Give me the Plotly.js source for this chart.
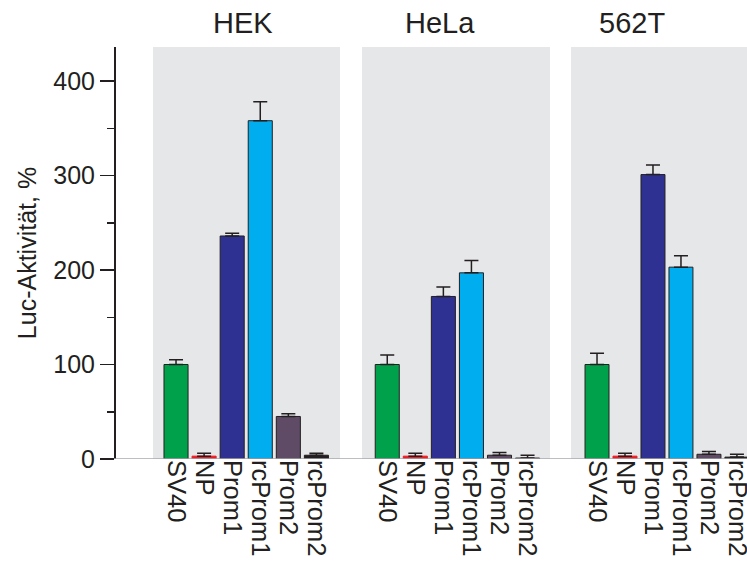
<!DOCTYPE html>
<html>
<head>
<meta charset="utf-8">
<script src="https://cdn.plot.ly/plotly-3.0.1.min.js"></script>
<style>html,body{margin:0;padding:0;background:#fff;}#chart{width:747px;height:562px;}</style>
</head>
<body>
<div id="chart"></div>
<script>
var constructs = ['SV40', 'NP', 'Prom1', 'rcProm1', 'Prom2', 'rcProm2'];
var cellLines = ['HEK', 'HeLa', '562T'];
var hekValues  = [100, 3, 236, 358, 45, 4];
var hekErrors  = [5, 3, 3, 20, 3, 2];
var helaValues = [100, 3, 172, 197, 4, 1];
var helaErrors = [10, 3, 10, 13, 3, 3];
var t562Values = [100, 3, 301, 203, 5, 2];
var t562Errors = [12, 3, 10, 12, 3, 3];
var barColors  = ['#00a14b', '#ed1c24', '#2e3192', '#00aeef', '#5f4b66', '#231f20'];
var lineColors = ['#231f20', '#ed1c24', '#231f20', '#231f20', '#231f20', '#231f20'];

var FONT = 'Liberation Sans, Arial, Helvetica, sans-serif';
var INK = '#231f20';

function makeTrace(vals, errs, xa) {
  return {
    type: 'bar', x: constructs, y: vals, xaxis: xa, yaxis: 'y',
    marker: {color: barColors, line: {color: lineColors, width: 1}},
    error_y: {type: 'data', symmetric: false, array: errs,
              arrayminus: errs.map(function(){return 0;}),
              color: INK, thickness: 1.5, width: 7},
    showlegend: false, hoverinfo: 'none'
  };
}

var data = [
  makeTrace(hekValues, hekErrors, 'x'),
  makeTrace(helaValues, helaErrors, 'x2'),
  makeTrace(t562Values, t562Errors, 'x3')
];

function xax(domain, range) {
  return {
    domain: domain, range: range, type: 'category', anchor: 'y',
    showgrid: false, zeroline: false, showline: false, ticks: '',
    tickmode: 'array', tickvals: constructs, ticktext: constructs,
    tickangle: 90, tickfont: {family: FONT, size: 25.5, color: INK},
    fixedrange: true
  };
}

var W = 633;
var layout = {
  width: 747, height: 562,
  margin: {l: 114, r: 0, t: 47, b: 103, pad: 0},
  paper_bgcolor: '#ffffff',
  plot_bgcolor: '#e6e7e8',
  bargap: 0.143,
  xaxis:  xax([39 / W, 226 / W], [-0.82, 5.84]),
  xaxis2: xax([248 / W, 436 / W], [-0.9, 5.8]),
  xaxis3: xax([457 / W, 1], [-0.93, 5.36]),
  yaxis: {
    range: [0, 436], anchor: 'free', position: 0,
    showline: true, linecolor: INK, linewidth: 1.5,
    showgrid: false, zeroline: false,
    ticks: 'outside', ticklen: 14, tickwidth: 1.5, tickcolor: INK,
    tickvals: [0, 100, 200, 300, 400],
    tickfont: {family: FONT, size: 25, color: INK},
    minor: {tickvals: [50, 150, 250, 350], ticks: 'outside', ticklen: 7, tickwidth: 1.5, tickcolor: INK, showgrid: false},
    title: {text: 'Luc-Aktivität, %', font: {family: FONT, size: 25, color: INK}, standoff: 8},
    fixedrange: true
  },
  shapes: [
    {type: 'line', xref: 'paper', yref: 'y', x0: 0, x1: 1, y0: 0, y1: 0,
     line: {color: '#a7a9ac', width: 1.5}, layer: 'above'}
  ],
  annotations: [
    {text: cellLines[0], xref: 'paper', yref: 'paper', x: (243 - 114) / W, y: 1, yanchor: 'bottom', xanchor: 'center', yshift: 6, showarrow: false, font: {family: FONT, size: 29, color: INK}},
    {text: cellLines[1], xref: 'paper', yref: 'paper', x: (440 - 114) / W, y: 1, yanchor: 'bottom', xanchor: 'center', yshift: 6, showarrow: false, font: {family: FONT, size: 29, color: INK}},
    {text: cellLines[2], xref: 'paper', yref: 'paper', x: (632 - 114) / W, y: 1, yanchor: 'bottom', xanchor: 'center', yshift: 6, showarrow: false, font: {family: FONT, size: 29, color: INK}}
  ]
};

Plotly.newPlot('chart', data, layout, {displayModeBar: false, staticPlot: true});
</script>
</body>
</html>
